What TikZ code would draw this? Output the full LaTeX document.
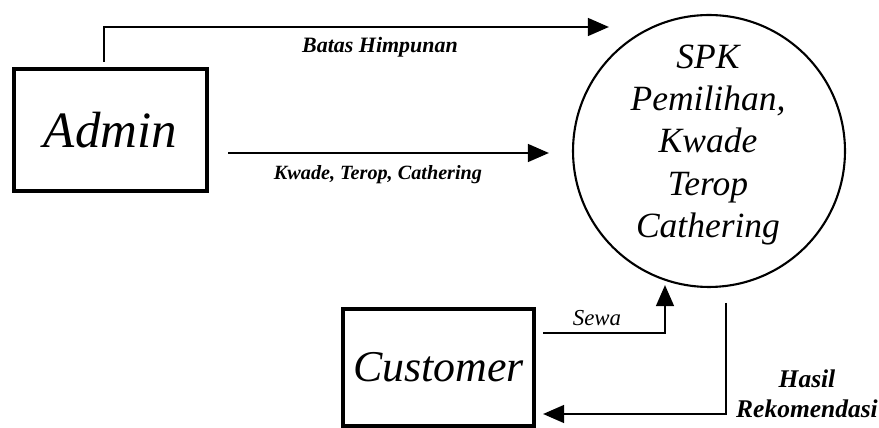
\documentclass[tikz,border=0pt]{standalone}
\usepackage{fontspec}
\setmainfont{Liberation Serif}
\usetikzlibrary{arrows.meta}
\tikzset{every path/.style={line cap=butt,line join=miter},
  entity/.style={draw,line width=2.5pt,inner sep=0pt},
  proc/.style={draw,circle,line width=1.2pt,minimum size=5.44cm,inner sep=0pt},
  proctext/.style={align=center,inner sep=0pt,font=\itshape\fontsize{20.2}{24}\selectfont},
  flow/.style={line width=1.6pt,-{Triangle[length=12pt,width=10pt]}},
  flowlbl/.style={font=\bfseries\itshape\fontsize{11.5}{12}\selectfont,inner sep=0pt,align=center}}

\begin{document}
\begin{tikzpicture}[x=0.02cm,y=-0.02cm]
  \useasboundingbox (0,0) rectangle (879,428);
  \node[entity,minimum width=3.85cm,minimum height=2.43cm,font=\itshape\fontsize{29}{30}\selectfont] (admin) at (110.5,130) {Admin};
  \node[entity,minimum width=3.81cm,minimum height=2.33cm,font=\itshape\fontsize{25}{26}\selectfont] (customer) at (438.5,367.5) {Customer};
  \node[proc] (spk) at (709,151) {};
  \node[proctext] (spktext) at (708,145) {SPK\\Pemilihan,\\Kwade\\Terop\\Cathering};
  \coordinate (b0) at (104,62);
  \coordinate (b1) at (609,27);
  \coordinate (k0) at (228,153);
  \coordinate (k1) at (549,153);
  \coordinate (s0) at (543,333);
  \coordinate (s1) at (665,285);
  \coordinate (h0) at (726,303);
  \coordinate (h1) at (543,414);
  \draw[flow] (b0) |- (b1);
  \draw[flow] (k0) -- (k1);
  \draw[flow] (s0) -| (s1);
  \draw[flow] (h0) |- (h1);
  \node[flowlbl,font=\bfseries\itshape\fontsize{12.5}{13}\selectfont] (lbatas) at (380,47) {Batas Himpunan};
  \node[flowlbl] (lkwade) at (378,175) {Kwade, Terop, Cathering};
  \node[flowlbl,font=\itshape\fontsize{13}{14}\selectfont] (lsewa) at (597,318) {Sewa};
  \node[flowlbl,font=\bfseries\itshape\fontsize{14.5}{17}\selectfont] (lhasil) at (807,394) {Hasil\\Rekomendasi};
\end{tikzpicture}
\end{document}
